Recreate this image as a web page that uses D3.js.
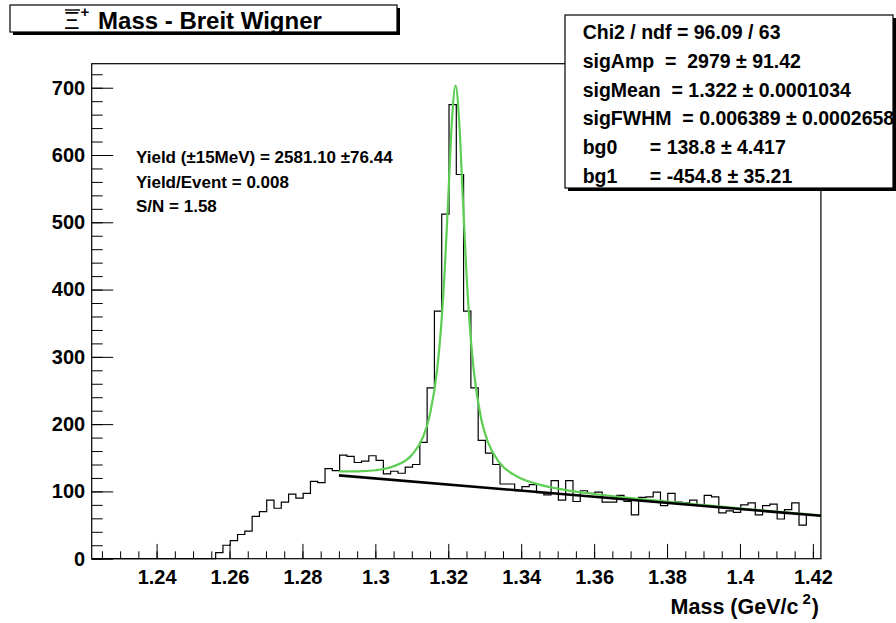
<!DOCTYPE html>
<html><head><meta charset="utf-8">
<script src="https://cdn.jsdelivr.net/npm/d3@7"></script>
<style>
body{margin:0;background:#fff}
text{font-family:"Liberation Sans",Arial,Helvetica,sans-serif;font-weight:bold;fill:#000}
</style>
</head><body>
<svg id="c" width="896" height="623"></svg>
<script>
// ---------- data ----------
const binStart = 1.2222;
const binWidth = 0.002;
const counts = [
  0,0,0,0,0,0,0,0,0,0,
  0,0,0,0,0,0,0,9,20,27,
  36,41,63,70,87,75,84,96,90,97,
  115,113,134,131,154,152,143,145,153,146,
  126,130,127,136,140,173,254,368,512,675,
  571,368,254,176,157,140,111,111,101,107,
  110,98,95,116,87,116,85,101,97,99,
  84,84,94,85,65,91,92,99,79,97,
  84,83,87,80,94,92,68,71,69,80,
  83,65,79,81,59,73,83,50,65,65
];
const fitX = [1.290,1.295,1.300,1.305,1.310,1.313,1.315,1.317,1.318,1.319,1.320,1.321,1.322,1.323,1.324,1.325,1.326,1.327,1.329,1.331,1.334,1.339,1.344,1.350,1.360,1.370,1.380,1.390,1.400,1.410,1.4222];
const fitY = [129.7,129.8,131.5,137.3,154.1,179.8,214.9,283.7,342.3,426.2,536.7,650.5,703.0,649.5,534.9,423.4,338.7,279.1,208.5,171.6,143.1,121.9,111.6,104.2,96.2,90.1,84.7,79.7,74.8,70.1,64.4];
const bgX = [1.29, 1.4222];
const bgY = [123.9, 63.8];
const xTickValues = [1.24,1.26,1.28,1.30,1.32,1.34,1.36,1.38,1.40,1.42];
const xTickLabels = ["1.24","1.26","1.28","1.3","1.32","1.34","1.36","1.38","1.4","1.42"];
const yTickValues = [0,100,200,300,400,500,600,700];
const yTickLabels = ["0","100","200","300","400","500","600","700"];
const titleMain = " Mass - Breit Wigner";
const xTitle = ["Mass (GeV/c", "2", ")"];
const statsRows = [
  "Chi2 / ndf = 96.09 / 63",
  "sigAmp  =  2979 \u00b1 91.42",
  "sigMean  = 1.322 \u00b1 0.0001034",
  "sigFWHM  = 0.006389 \u00b1 0.0002658",
  "bg0      = 138.8 \u00b1 4.417",
  "bg1      = -454.8 \u00b1 35.21"
];
const infoRows = [
  "Yield (\u00b115MeV) = 2581.10 \u00b176.44",
  "Yield/Event = 0.008",
  "S/N = 1.58"
];

// ---------- drawing ----------
const svg = d3.select("#c");
const x = d3.scaleLinear().domain([1.2222, 1.4222]).range([91.7, 820.9]);
const y = d3.scaleLinear().domain([0, 735.7]).range([558.7, 63.7]);
const [fx0, fx1] = x.range();
const [fy1, fy0] = y.range();

svg.append("rect").attr("width",896).attr("height",623).attr("fill","#fff");

// histogram
const pts = counts.map((c,i)=>[binStart + i*binWidth, c]);
pts.push([binStart + counts.length*binWidth, counts[counts.length-1]]);
svg.append("path")
  .attr("d", d3.line().x(d=>x(d[0])).y(d=>y(d[1])).curve(d3.curveStepAfter)(pts))
  .attr("fill","none").attr("stroke","#000").attr("stroke-width",1.2);

// fit curve
svg.append("path")
  .attr("d", d3.line().x((d,i)=>x(fitX[i])).y((d,i)=>y(fitY[i])).curve(d3.curveMonotoneX)(fitX))
  .attr("fill","none").attr("stroke","#5cce52").attr("stroke-width",2.2);

// background line
svg.append("path")
  .attr("d", d3.line().x((d,i)=>x(bgX[i])).y((d,i)=>y(bgY[i]))(bgX))
  .attr("fill","none").attr("stroke","#000").attr("stroke-width",2.6);

// axes
const gx = svg.append("g").attr("transform",`translate(0,${fy1})`);
gx.call(d3.axisBottom(x).tickValues(x.ticks(40)).tickSize(-7.4).tickFormat(""));
gx.call(g=>g.select(".domain").remove());
const gxm = svg.append("g").attr("transform",`translate(0,${fy1})`);
gxm.call(d3.axisBottom(x).tickValues(xTickValues).tickSize(-14.8).tickPadding(10)
  .tickFormat((d,i)=>xTickLabels[i]));
gxm.select(".domain").remove();
gxm.selectAll("text").attr("font-size",20).attr("font-family",null).attr("dy","0.71em").attr("y",11);

const gy = svg.append("g").attr("transform",`translate(${fx0},0)`);
gy.call(d3.axisLeft(y).tickValues(y.ticks(40)).tickSize(-11).tickFormat(""));
gy.select(".domain").remove();
const gym = svg.append("g").attr("transform",`translate(${fx0},0)`);
gym.call(d3.axisLeft(y).tickValues(yTickValues).tickSize(-21.5).tickPadding(6.5)
  .tickFormat((d,i)=>yTickLabels[i]));
gym.select(".domain").remove();
gym.selectAll("text").attr("font-size",20).attr("font-family",null);
svg.selectAll(".tick line").attr("stroke","#000").attr("stroke-width",1);

// frame
svg.append("rect").attr("x",fx0).attr("y",fy0).attr("width",fx1-fx0).attr("height",fy1-fy0)
  .attr("fill","none").attr("stroke","#000").attr("stroke-width",1.2);

// x title
const xt = svg.append("text").attr("x",819).attr("y",614).attr("text-anchor","end").attr("font-size",21.5);
xt.append("tspan").text(xTitle[0]);
xt.append("tspan").attr("font-size",15).attr("dy",-10).attr("dx",4).text(xTitle[1]);
xt.append("tspan").attr("dy",10).attr("dx",1).text(xTitle[2]);

// title box
svg.append("rect").attr("x",13).attr("y",8).attr("width",387).attr("height",27).attr("fill","#000");
svg.append("rect").attr("x",10).attr("y",5).attr("width",387).attr("height",27)
  .attr("fill","#fff").attr("stroke","#000").attr("stroke-width",1.2);
const tt = svg.append("text").attr("x",64).attr("y",29).attr("font-size",24);
tt.append("tspan").attr("font-weight","normal").text("\u039e");
tt.append("tspan").attr("font-size",15).attr("dy",-12).attr("dx",1).text("+");
tt.append("tspan").attr("dy",12).attr("dx",2).text(titleMain);
svg.append("line").attr("x1",65).attr("x2",80).attr("y1",10).attr("y2",10).attr("stroke","#000").attr("stroke-width",1.4);

// stats box
svg.append("rect").attr("x",568).attr("y",18).attr("width",328).attr("height",173).attr("fill","#000");
svg.append("rect").attr("x",565).attr("y",15).attr("width",328).attr("height",173)
  .attr("fill","#fff").attr("stroke","#000").attr("stroke-width",1.2);
svg.append("g").selectAll("text").data(statsRows).join("text")
  .attr("x",582.7).attr("y",(d,i)=>39+i*28.8).attr("font-size",19.5)
  .style("white-space","pre").text(d=>d);

// info text
svg.append("g").selectAll("text").data(infoRows).join("text")
  .attr("x",136).attr("y",(d,i)=>162.8+i*24.8).attr("font-size",17)
  .style("white-space","pre").text(d=>d);
</script>
</body></html>
